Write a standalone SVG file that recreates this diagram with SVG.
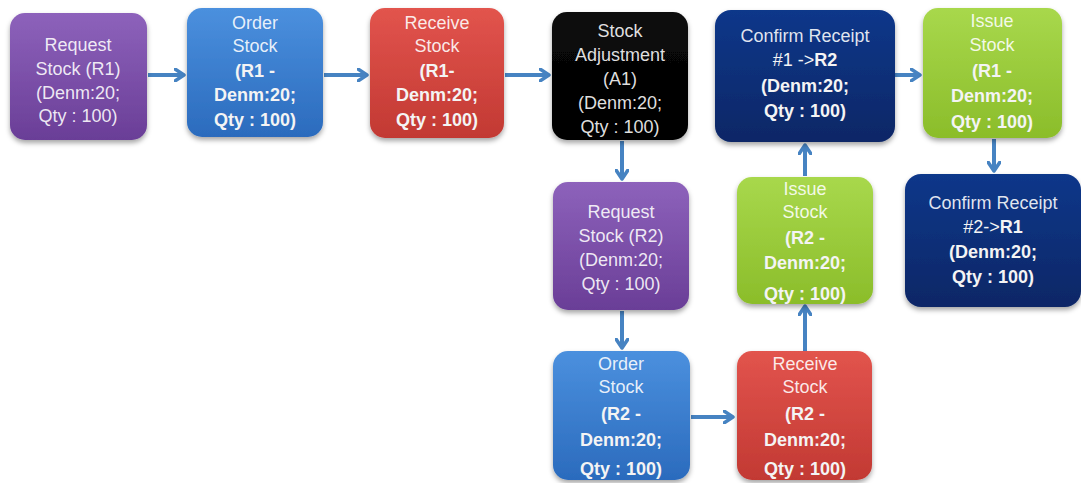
<svg xmlns="http://www.w3.org/2000/svg" width="1081" height="483" viewBox="0 0 1081 483">
<defs>
<linearGradient id="gPurple" x1="0" y1="0" x2="0" y2="1"><stop offset="0" stop-color="#8d62bb"/><stop offset="1" stop-color="#6a3e97"/></linearGradient>
<linearGradient id="gBlue" x1="0" y1="0" x2="0" y2="1"><stop offset="0" stop-color="#4b90de"/><stop offset="1" stop-color="#2b6bbd"/></linearGradient>
<linearGradient id="gRed" x1="0" y1="0" x2="0" y2="1"><stop offset="0" stop-color="#e2544d"/><stop offset="1" stop-color="#c23933"/></linearGradient>
<linearGradient id="gBlack" x1="0" y1="0" x2="0" y2="1"><stop offset="0" stop-color="#0a0a0a"/><stop offset="1" stop-color="#000000"/></linearGradient>
<linearGradient id="gNavy" x1="0" y1="0" x2="0" y2="1"><stop offset="0" stop-color="#11378a"/><stop offset="1" stop-color="#0a2766"/></linearGradient>
<linearGradient id="gGreen" x1="0" y1="0" x2="0" y2="1"><stop offset="0" stop-color="#a8d84c"/><stop offset="1" stop-color="#8bbd2a"/></linearGradient>
<filter id="sh" x="-10%" y="-10%" width="120%" height="125%"><feDropShadow dx="0" dy="3" stdDeviation="2.5" flood-color="#000" flood-opacity="0.35"/></filter>
<marker id="ah" viewBox="0 0 12 14" refX="10" refY="7" markerWidth="12" markerHeight="14" markerUnits="userSpaceOnUse" orient="auto"><path d="M1,1 L10,7 L1,13" fill="none" stroke="#4683c2" stroke-width="3.5" stroke-linecap="round" stroke-linejoin="round"/></marker>
</defs>
<style>
.box{filter:url(#sh)}
.r{font-family:"Liberation Sans",Arial,sans-serif;font-size:18px;fill:#ffffff;fill-opacity:0.88;text-anchor:middle}
.b{font-family:"Liberation Sans",Arial,sans-serif;font-size:18px;font-weight:bold;fill:#f4f4f4;text-anchor:middle}
.c{fill:none;stroke:#4683c2;stroke-width:4;marker-end:url(#ah)}
</style>
<rect width="1081" height="483" fill="#ffffff"/>
<g id="connectors">
<line class="c" x1="148" y1="75" x2="184" y2="75"/>
<line class="c" x1="324" y1="75" x2="367" y2="75"/>
<line class="c" x1="505" y1="75" x2="549" y2="75"/>
<line class="c" x1="895" y1="75" x2="920" y2="75"/>
<line class="c" x1="622" y1="141" x2="622" y2="179"/>
<line class="c" x1="805" y1="176" x2="805" y2="145"/>
<line class="c" x1="994" y1="139" x2="994" y2="171"/>
<line class="c" x1="622" y1="311" x2="622" y2="348"/>
<line class="c" x1="691" y1="417" x2="733" y2="417"/>
<line class="c" x1="805" y1="351" x2="805" y2="306"/>
</g>
<g id="n1"><rect class="box" x="10" y="13" width="137" height="127" rx="15" fill="url(#gPurple)"/>
<text class="r" x="78" y="51">Request</text><text class="r" x="78" y="75">Stock (R1)</text><text class="r" x="78" y="99">(Denm:20;</text><text class="r" x="78" y="122">Qty : 100)</text></g>
<g id="n2"><rect class="box" x="187" y="8" width="136" height="129" rx="15" fill="url(#gBlue)"/>
<text class="r" x="255" y="29">Order</text><text class="r" x="255" y="52">Stock</text><text class="b" x="255" y="77">(R1 -</text><text class="b" x="255" y="101">Denm:20;</text><text class="b" x="255" y="126">Qty : 100)</text></g>
<g id="n3"><rect class="box" x="370" y="8" width="134" height="130" rx="15" fill="url(#gRed)"/>
<text class="r" x="437" y="29">Receive</text><text class="r" x="437" y="52">Stock</text><text class="b" x="437" y="77">(R1-</text><text class="b" x="437" y="101">Denm:20;</text><text class="b" x="437" y="126">Qty : 100)</text></g>
<g id="n4"><rect class="box" x="552" y="12" width="136" height="128" rx="15" fill="url(#gBlack)"/>
<text class="r" x="620" y="37">Stock</text><text class="r" x="620" y="61">Adjustment</text><text class="r" x="620" y="85">(A1)</text><text class="r" x="620" y="109">(Denm:20;</text><text class="r" x="620" y="133">Qty : 100)</text></g>
<g id="n5"><rect class="box" x="715" y="10" width="180" height="132" rx="16" fill="url(#gNavy)"/>
<text class="r" x="805" y="42">Confirm Receipt</text><text class="b" x="805" y="66"><tspan style="font-weight:normal">#1 -&gt;</tspan>R2</text><text class="b" x="805" y="92">(Denm:20;</text><text class="b" x="805" y="117">Qty : 100)</text></g>
<g id="n6"><rect class="box" x="923" y="8" width="139" height="130" rx="15" fill="url(#gGreen)"/>
<text class="r" x="992" y="27">Issue</text><text class="r" x="992" y="51">Stock</text><text class="b" x="992" y="77">(R1 -</text><text class="b" x="992" y="102">Denm:20;</text><text class="b" x="992" y="128">Qty : 100)</text></g>
<g id="n7"><rect class="box" x="553" y="182" width="136" height="128" rx="15" fill="url(#gPurple)"/>
<text class="r" x="621" y="218">Request</text><text class="r" x="621" y="242">Stock (R2)</text><text class="r" x="621" y="266">(Denm:20;</text><text class="r" x="621" y="290">Qty : 100)</text></g>
<g id="n8"><rect class="box" x="737" y="177" width="136" height="127" rx="15" fill="url(#gGreen)"/>
<text class="r" x="805" y="195">Issue</text><text class="r" x="805" y="218">Stock</text><text class="b" x="805" y="244">(R2 -</text><text class="b" x="805" y="269">Denm:20;</text><text class="b" x="805" y="300">Qty : 100)</text></g>
<g id="n9"><rect class="box" x="905" y="174" width="176" height="133" rx="16" fill="url(#gNavy)"/>
<text class="r" x="993" y="209">Confirm Receipt</text><text class="b" x="993" y="233"><tspan style="font-weight:normal">#2-&gt;</tspan>R1</text><text class="b" x="993" y="258">(Denm:20;</text><text class="b" x="993" y="283">Qty : 100)</text></g>
<g id="n10"><rect class="box" x="553" y="351" width="137" height="129" rx="15" fill="url(#gBlue)"/>
<text class="r" x="621" y="370">Order</text><text class="r" x="621" y="393">Stock</text><text class="b" x="621" y="420">(R2 -</text><text class="b" x="621" y="446">Denm:20;</text><text class="b" x="621" y="475">Qty : 100)</text></g>
<g id="n11"><rect class="box" x="737" y="351" width="135" height="129" rx="15" fill="url(#gRed)"/>
<text class="r" x="805" y="370">Receive</text><text class="r" x="805" y="393">Stock</text><text class="b" x="805" y="420">(R2 -</text><text class="b" x="805" y="446">Denm:20;</text><text class="b" x="805" y="475">Qty : 100)</text></g>
</svg>
